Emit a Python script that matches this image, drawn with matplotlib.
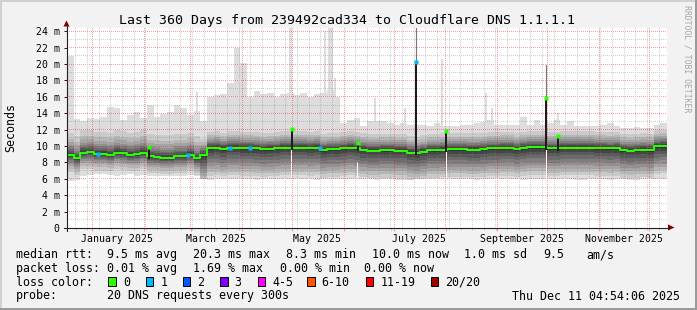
import numpy as np
import matplotlib
matplotlib.use("Agg")
import matplotlib.pyplot as plt
from matplotlib.patches import Rectangle, Polygon
from matplotlib.lines import Line2D
import matplotlib.transforms as mtransforms

W, H = 697, 310

first_day = -15.2
bin_days = 4.0
route_change_day = 64.8

median_ms = [8.9, 8.5, 9.2, 9.25, 9.05, 9.05, 8.95, 9.2, 9.1, 8.95,
             9.0, 9.2, 8.75, 8.7, 8.6, 8.6, 8.75, 8.75, 8.95, 8.5,
             8.9, 9.75, 9.8, 9.65, 9.8, 9.8, 9.75, 9.75, 9.7, 9.6,
             9.65, 9.7, 9.8, 9.8, 9.8, 9.8, 9.75, 9.8, 9.5, 9.6,
             9.6, 9.7, 9.8, 9.7, 9.55, 9.45, 9.45, 9.5, 9.5, 9.45,
             9.45, 9.2, 9.15, 9.3, 9.5, 9.5, 9.55, 9.6, 9.6, 9.6,
             9.55, 9.55, 9.6, 9.7, 9.7, 9.75, 9.75, 9.6, 9.75, 9.85,
             9.85, 9.85, 9.7, 9.7, 9.8, 9.8, 9.8, 9.8, 9.8, 9.75,
             9.75, 9.7, 9.75, 9.5, 9.45, 9.5, 9.55, 9.5, 9.95, 10.0]

max_ms = [21.0, 13.3, 13.0, 13.4, 13.3, 13.6, 14.8, 14.7, 13.2, 13.8,
          14.2, 13.4, 15.0, 13.5, 13.9, 14.2, 15.0, 14.6, 13.8, 14.3,
          13.0, 16.0, 16.2, 16.3, 17.7, 22.0, 20.1, 16.0, 16.7, 16.3,
          16.5, 16.0, 16.3, 16.5, 16.2, 16.5, 16.0, 16.4, 16.5, 16.8,
          16.0, 12.8, 13.2, 13.4, 12.4, 13.0, 13.1, 13.0, 12.8, 12.6,
          12.8, 12.6, 12.6, 12.6, 12.5, 12.8, 12.5, 12.5, 12.4, 12.6,
          12.6, 12.8, 12.9, 13.2, 12.6, 12.6, 12.6, 12.6, 13.5, 12.6,
          13.2, 12.6, 12.8, 13.2, 12.6, 13.0, 12.5, 12.5, 12.4, 12.5,
          12.6, 12.8, 12.4, 12.2, 12.2, 12.3, 12.2, 12.2, 12.6, 12.8]

min_ms = [5.7, 5.8, 6.4, 6.5, 6.6, 6.6, 6.5, 6.4, 6.5, 6.6,
          6.4, 6.5, 6.4, 6.3, 6.3, 6.3, 6.4, 6.4, 6.5, 6.4,
          5.95, 5.9, 5.95, 5.95, 5.95, 6.0, 5.95, 5.95, 5.9, 5.95,
          5.95, 5.95, 5.95, 6.0, 5.95, 5.95, 5.95, 5.9, 5.95, 5.95,
          5.95, 5.95, 5.95, 5.95, 5.95, 5.95, 5.9, 5.95, 5.95, 5.9,
          5.85, 5.9, 5.95, 5.95, 5.95, 5.95, 5.95, 5.95, 5.95, 5.95,
          5.95, 5.9, 5.95, 5.95, 5.95, 5.95, 5.95, 5.95, 5.9, 5.95,
          5.95, 5.95, 5.95, 5.95, 5.95, 5.95, 5.9, 5.9, 5.95, 5.95,
          5.95, 5.9, 5.95, 5.95, 5.9, 5.9, 5.95, 5.95, 5.95, 5.95]

# sorted ping ranks 2..10 and 11..19 as distance from the median
low_ranks_old = [-2.05, -1.65, -1.3, -1.05, -0.8, -0.6, -0.4, -0.25, -0.1]
high_ranks_old = [0.1, 0.3, 0.5, 0.7, 0.95, 1.2, 1.6, 2.0, 2.7]
low_ranks_new = [-3.35, -2.95, -2.55, -2.15, -1.75, -1.35, -0.95, -0.55, -0.2]
high_ranks_new = [0.12, 0.3, 0.45, 0.6, 0.8, 1.0, 1.25, 1.55, 2.0]

# single bins where the median jumped
spike_days = [34.2, 119.6, 159.2, 194.0, 212.2, 272.2, 279.2]
spike_ms = [9.9, 12.1, 10.4, 20.3, 11.8, 15.8, 11.2]
spike_loss = [0, 0, 0, 1, 0, 0, 0]
spike_max_ms = [0, 0, 0, 24.6, 0, 19.9, 0]
spike_gap_ms = [0, 10.0, 8.0, 0, 9.3, 9.5, 0]

# thin outliers of the slowest ping
tail_days = [62.9, 118.8, 139.6, 142.3, 143.6, 145.6, 169.6, 187.6, 209.8, 236.2, 239.8, 279.2]
tail_ms = [16.6, 24.4, 24.0, 24.4, 24.4, 18.3, 15.9, 14.7, 20.6, 16.5, 14.7, 14.0]

loss_days = [3.6, 57.5, 82.6, 94.6, 136.6]
loss_counts = [1, 1, 1, 1, 1]

month_starts = [0, 31, 59, 90, 120, 151, 181, 212, 243, 273, 304, 334]
label_months = [0, 59, 120, 181, 243, 304]
month_names = ['January 2025', 'March 2025', 'May 2025', 'July 2025',
               'September 2025', 'November 2025']

loss_names = ['0', '1', '2', '3', '4-5', '6-10', '11-19', '20/20']
loss_colors = ['#26ff00', '#00b8ff', '#0059ff', '#7e00ff', '#ff00ff',
               '#ff5500', '#ff0000', '#a10000']

plt.rcParams['font.family'] = 'DejaVu Sans Mono'

fig = plt.figure(figsize=(W / 100, H / 100), dpi=100, facecolor='#f2f2f2')
rect = [67 / W, 1 - 228 / H, 600 / W, 200 / H]
ax = fig.add_axes(rect, zorder=0)
ax.set_facecolor('white')
top = fig.add_axes(rect, zorder=1)
top.patch.set_visible(False)
top.axis('off')
pxT = mtransforms.Affine2D().scale(1 / W, -1 / H).translate(0, 1) + fig.transFigure

for a in (ax, top):
    a.set_xlim(-15.2, 344.8)
    a.set_ylim(0, 24.4)

# smoke
n = len(median_ms)
edges = first_day + bin_days * np.arange(n + 1)
centers = edges[:-1] + bin_days / 2
med = np.array(median_ms)
old = (centers < route_change_day)[:, None]
low = med[:, None] + np.where(old, low_ranks_old, low_ranks_new)
high = med[:, None] + np.where(old, high_ranks_old, high_ranks_new)
hi = np.array(max_ms)
high = np.minimum(high, hi[:, None])
pings = np.column_stack([min_ms, low, high, hi])
pings = np.maximum.accumulate(pings, axis=1)


def ext(a):
    return np.append(a, a[-1])


ax.bar(tail_days, np.array(tail_ms) - 9, bottom=9, width=1.4,
       color='#dddddd', lw=0, zorder=0.9)
for i in range(10):
    g = (int(190 / 10 * (9 - i)) + 50) / 255
    ax.fill_between(edges, ext(pings[:, i]), ext(pings[:, 19 - i]), step='post',
                    color=(g, g, g), lw=0, zorder=1 + i * 0.01)

# median and spikes on the upper axes, above the grid
top.step(edges, ext(med), where='post', color=loss_colors[0], lw=1.45, zorder=3)
for d, c in zip(loss_days, loss_counts):
    b = int((d - first_day) // bin_days)
    top.plot(d, med[b], 's', ms=2.4, color=loss_colors[c], mec='none', zorder=3.3)

lo = np.array(min_ms)
for d, tp, ls, mx, gap in zip(spike_days, spike_ms, spike_loss, spike_max_ms, spike_gap_ms):
    b = int((d - first_day) // bin_days)
    if mx > tp:
        top.plot([d, d], [tp, mx], color='#777777', lw=0.8, zorder=3.1)
    if gap > 0:
        ax.bar(d, gap - lo[b] + 0.1, bottom=lo[b] - 0.1, width=0.6,
               color='white', lw=0, zorder=2.6)
    top.bar(d, tp - med[b] + 0.3, bottom=med[b] - 0.3, width=1.2,
            color='#1c1c1c', lw=0, zorder=3.2)
    top.plot(d, tp, 's', ms=2.4, color=loss_colors[ls], mec='none', zorder=3.4)

ax.set_xticks(month_starts)
ax.set_xticks(np.arange(-10, 345, 7), minor=True)
ax.set_yticks(np.arange(0, 25, 2))
ax.set_yticks(np.arange(1, 25, 2), minor=True)
ax.set_yticklabels(['0'] + ['%d m' % v for v in range(2, 25, 2)])
ax.set_xticklabels([])
ax.tick_params(axis='x', which='major', length=2.2, width=0.72,
               color=(0.95, 0.6, 0.6), direction='out')
ax.tick_params(axis='x', which='minor', length=1.5, width=0.72,
               color='#c8c8c8', direction='out')
ax.tick_params(axis='y', which='major', length=2.2, width=0.72, color='#202020',
               pad=3.2, labelsize=7.1)
ax.tick_params(axis='y', which='minor', length=0)
for s in ax.spines.values():
    s.set_visible(False)

# dotted grid, one pixel on / one off, laid over the smoke as an image
grid = np.zeros((H, W, 4), dtype=np.uint8)
minor_rgba = (128, 128, 128, 95)
major_rgba = (255, 0, 0, 100)
r0, r1, c0, c1 = 28, 228, 67, 667


def col_of(d):
    return int(np.floor(ax.transData.transform((d, 0))[0]))


def row_of(v):
    return H - 1 - int(np.floor(ax.transData.transform((0, v))[1]))


for v in range(1, 25):
    r = row_of(v)
    grid[r, c0:c1:2] = major_rgba if v % 2 == 0 else minor_rgba
for d in np.arange(-10, 345, 7):
    grid[r0:r1:2, col_of(d)] = minor_rgba
for d in month_starts:
    grid[r0:r1:2, col_of(d)] = major_rgba
fig.figimage(grid, xo=0, yo=0, origin='upper', zorder=0.5)

# axes with arrows
fig.add_artist(Line2D([64, 669], [227.5, 227.5], transform=pxT, color='#202020', lw=0.8))
fig.add_artist(Line2D([66.5, 66.5], [231, 26], transform=pxT, color='#202020', lw=0.8))
fig.add_artist(Polygon([[668, 224.5], [674.5, 227.5], [668, 230.5]], closed=True,
                       transform=pxT, color='#7f0000', lw=0))
fig.add_artist(Polygon([[63.5, 26.5], [66.5, 20.5], [69.5, 26.5]], closed=True,
                       transform=pxT, color='#7f0000', lw=0))

# frame shading
fig.add_artist(Rectangle((0, 0), W, 2, transform=pxT, color='#d0d0d0', lw=0))
fig.add_artist(Rectangle((0, 0), 2, H, transform=pxT, color='#d0d0d0', lw=0))
fig.add_artist(Rectangle((0, H - 2), W, 2, transform=pxT, color='#9a9a9a', lw=0))
fig.add_artist(Rectangle((W - 2, 0), 2, H, transform=pxT, color='#9a9a9a', lw=0))

# texts
fig.text(347.3 / W, 1 - 24 / H, 'Last 360 Days from 239492cad334 to Cloudflare DNS 1.1.1.1',
         ha='center', va='baseline', fontsize=9.5)
fig.text(10.5 / W, 1 - 127.5 / H, 'Seconds', rotation=90, ha='center', va='center',
         fontsize=8.4)
fig.text(687.5 / W, 1 - 5 / H, 'RRDTOOL / TOBI OETIKER', rotation=270, ha='center',
         va='top', fontsize=5.9, color='#a6a6a6')

xT = mtransforms.blended_transform_factory(ax.transData, fig.transFigure)
for d, name in zip(label_months, month_names):
    ax.text(d + 15, 1 - 241.5 / H, name, transform=xT, ha='center', va='baseline',
            fontsize=7.1)

rows = [
    [('median rtt:', 16), ('9.5 ms avg', 107), ('20.3 ms max', 193),
     ('8.3 ms min', 285.5), ('10.0 ms now', 372), ('1.0 ms sd', 464.5),
     ('9.5', 543.5), ('am/s', 586)],
    [('packet loss:', 16), ('0.01 % avg', 107), ('1.69 % max', 193),
     ('0.00 % min', 279.5), ('0.00 % now', 364.5)],
    [('loss color:', 16)],
    [('probe:', 16), ('20 DNS requests every 300s', 107)],
]
baselines = [258, 272, 285.5, 299.5]
for row, yb in zip(rows, baselines):
    for txt, x in row:
        fig.text(x / W, 1 - yb / H, txt, ha='left', va='baseline', fontsize=8.4)

box_x = [108.3, 145.7, 182.7, 220, 257.7, 307, 365.7, 430.7]
for bx, name, col in zip(box_x, loss_names, loss_colors):
    fig.add_artist(Rectangle((bx, 276.5), 7.5, 9, transform=pxT, facecolor=col,
                             edgecolor='black', lw=0.7))
    fig.text((bx + 14.5) / W, 1 - 285.5 / H, name, ha='left', va='baseline', fontsize=8.4)

fig.text(680 / W, 1 - 299.5 / H, 'Thu Dec 11 04:54:06 2025', ha='right', va='baseline',
         fontsize=8.4)

fig.savefig('out.png', dpi=100, facecolor=fig.get_facecolor())
